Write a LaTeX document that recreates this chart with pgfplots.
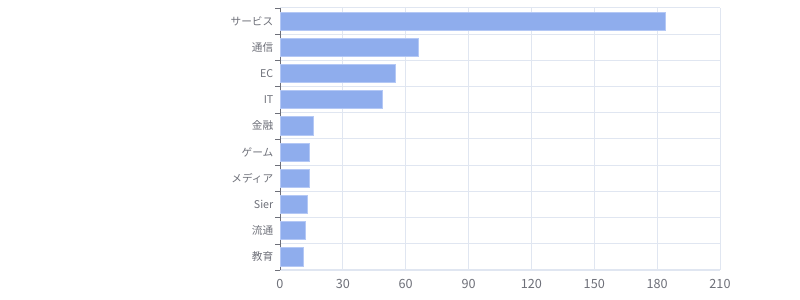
\documentclass[border=0pt]{standalone}
\usepackage{fontspec}
\setmainfont{Noto Sans CJK JP}
\usepackage{pgfplots}
\pgfplotsset{compat=1.18}
\definecolor{barfill}{RGB}{143,173,237}
\definecolor{barline}{RGB}{180,200,245}
\definecolor{gridc}{RGB}{224,230,241}
\definecolor{axisc}{RGB}{110,112,121}
\definecolor{labc}{RGB}{110,112,121}
\begin{document}
\begin{tikzpicture}
\useasboundingbox (0pt,0pt) rectangle (600pt,225pt);
\begin{axis}[
  at={(210pt,22.5pt)}, anchor=south west,
  scale only axis,
  width=330pt, height=196.5pt,
  xbar, bar width=0.69,
  xmin=0, xmax=210,
  xtick={0,30,...,210},
  ymin=-0.5, ymax=9.5,
  ytick={0,...,9},
  yticklabels={教育,流通,Sier,メディア,ゲーム,金融,IT,EC,通信,サービス},
  minor ytick={-0.5,0.5,...,9.5},
  major y tick style={draw=none},
  minor y tick style={draw=axisc},
  minor tick length=3.75pt,
  major tick length=0pt,
  ymajorgrids=false,
  yminorgrids=true,
  xmajorgrids=true,
  grid style={draw=gridc, line width=0.75pt},
  minor grid style={draw=gridc, line width=0.75pt},
  axis lines*=left,
  axis line style={-},
  x axis line style={draw=none},
  y axis line style={draw=axisc, line width=0.75pt},
  tick align=outside,
  xtick style={draw=none},
  /pgf/number format/assume math mode=true,
  xticklabel style={font=\fontsize{9.5pt}{11pt}\selectfont, text=labc, yshift=-3.5pt},
  yticklabel style={font=\fontsize{8pt}{10pt}\selectfont, text=labc, xshift=-1.5pt},
  clip=false,
]
\addplot[fill=barfill, draw=barline, line width=0.6pt] coordinates {
  (11,0) (12,1) (13,2) (14,3) (14,4) (16,5) (49,6) (55,7) (66,8) (184,9)
};
\end{axis}
\end{tikzpicture}
\end{document}
